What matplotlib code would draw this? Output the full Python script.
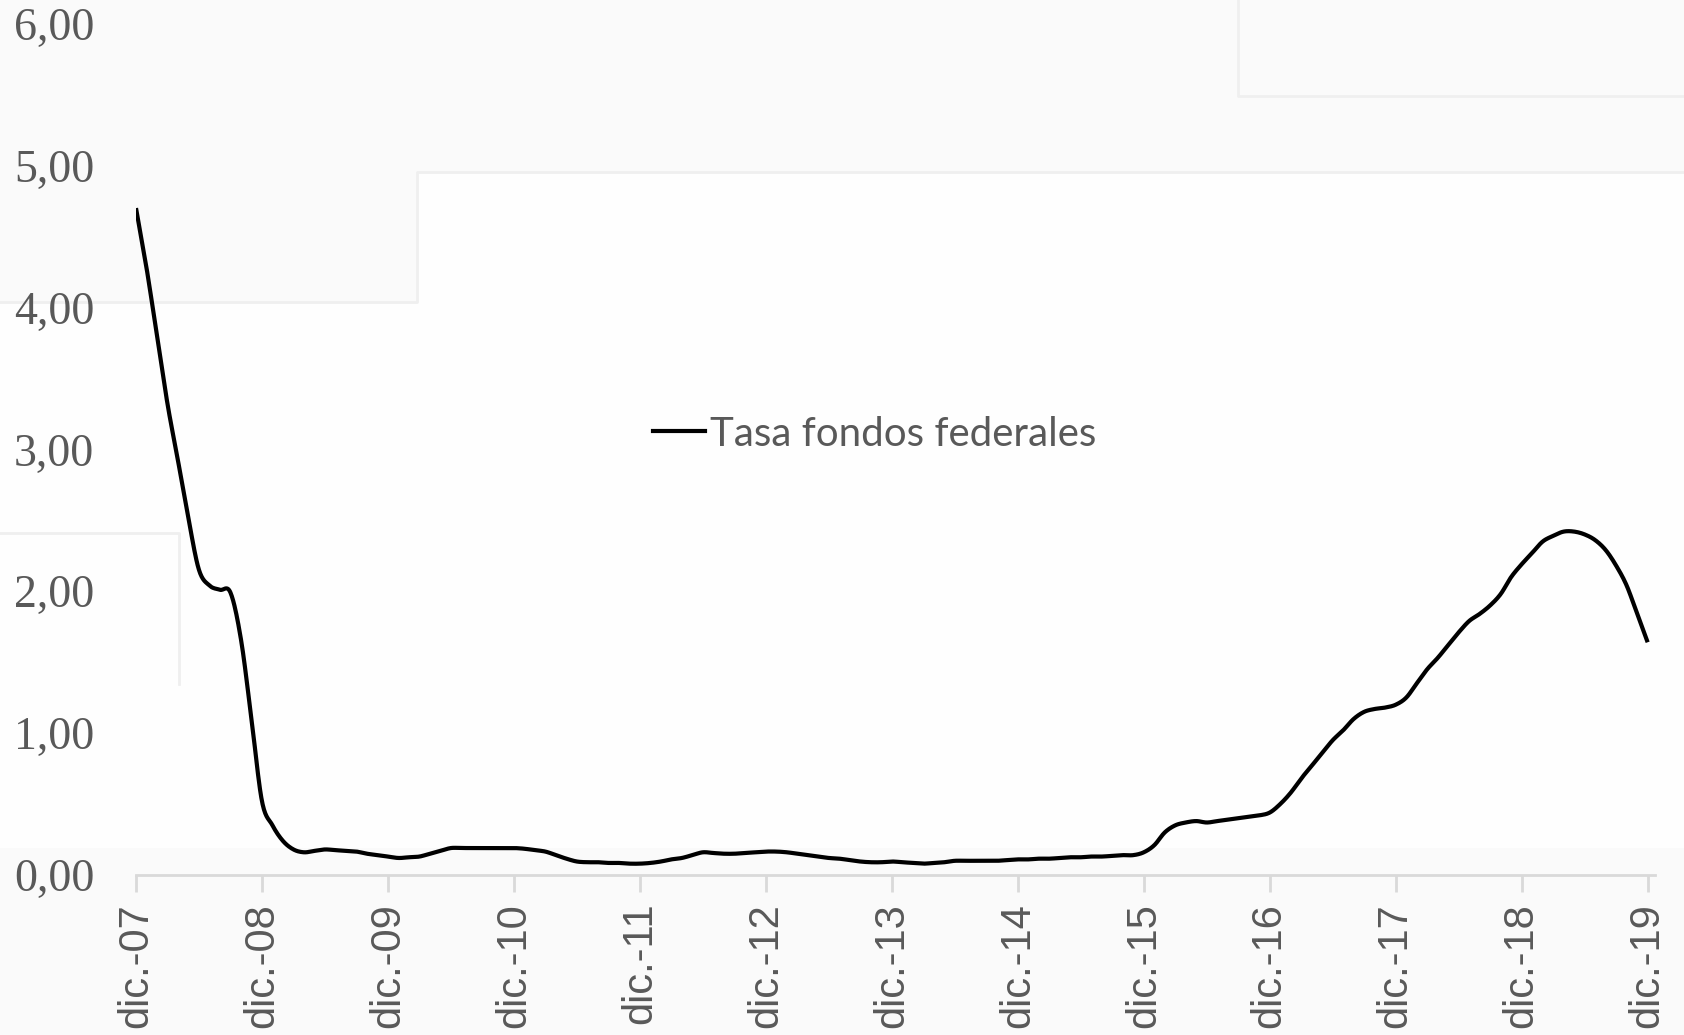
import matplotlib
matplotlib.use("Agg")
import matplotlib.pyplot as plt
import numpy as np
from matplotlib.lines import Line2D

# Monthly federal funds rate, dic.-07 .. dic.-19 (index 0 = dic.-07)
rate = [4.70, 4.28, 3.80, 3.32, 2.92, 2.51, 2.15, 2.04, 2.01, 1.99,
        1.66, 1.10, 0.52, 0.35, 0.24, 0.18, 0.16, 0.17, 0.18, 0.175,
        0.17, 0.165, 0.15, 0.14, 0.13, 0.12, 0.125, 0.13, 0.15, 0.17,
        0.19, 0.19, 0.19, 0.19, 0.19, 0.19, 0.19, 0.185, 0.175, 0.165,
        0.14, 0.115, 0.095, 0.09, 0.09, 0.085, 0.085, 0.08, 0.08, 0.085,
        0.095, 0.11, 0.12, 0.14, 0.16, 0.155, 0.15, 0.15, 0.155, 0.16,
        0.165, 0.165, 0.16, 0.15, 0.14, 0.13, 0.12, 0.115, 0.105, 0.095,
        0.09, 0.09, 0.095, 0.09, 0.085, 0.08, 0.085, 0.09, 0.10, 0.10,
        0.10, 0.10, 0.10, 0.105, 0.11, 0.11, 0.115, 0.115, 0.12, 0.125,
        0.125, 0.13, 0.13, 0.135, 0.14, 0.14, 0.16, 0.21, 0.30, 0.35,
        0.37, 0.38, 0.37, 0.38, 0.39, 0.40, 0.41, 0.42, 0.44, 0.50,
        0.58, 0.68, 0.77, 0.86, 0.95, 1.02, 1.10, 1.15, 1.17, 1.18,
        1.20, 1.25, 1.35, 1.45, 1.53, 1.62, 1.71, 1.79, 1.84, 1.90,
        1.98, 2.10, 2.19, 2.27, 2.35, 2.39, 2.42, 2.42, 2.40, 2.36,
        2.29, 2.18, 2.04, 1.84, 1.64]
tick_labels = ["dic.-07", "dic.-08", "dic.-09", "dic.-10", "dic.-11", "dic.-12",
               "dic.-13", "dic.-14", "dic.-15", "dic.-16", "dic.-17", "dic.-18", "dic.-19"]
y_ticks = [0, 1, 2, 3, 4, 5, 6]
series_name = "Tasa fondos federales"


def catmull_rom(x, y, n=16):
    x = np.asarray(x, float); y = np.asarray(y, float)
    px = np.concatenate([[2 * x[0] - x[1]], x, [2 * x[-1] - x[-2]]])
    py = np.concatenate([[2 * y[0] - y[1]], y, [2 * y[-1] - y[-2]]])
    xs, ys = [], []
    t = np.linspace(0, 1, n, endpoint=False)
    f = lambda a0, a1, a2, a3: 0.5 * ((2 * a1) + (-a0 + a2) * t +
                                      (2 * a0 - 5 * a1 + 4 * a2 - a3) * t ** 2 +
                                      (-a0 + 3 * a1 - 3 * a2 + a3) * t ** 3)
    for i in range(1, len(px) - 2):
        xs.append(f(px[i - 1], px[i], px[i + 1], px[i + 2]))
        ys.append(f(py[i - 1], py[i], py[i + 1], py[i + 2]))
    xs.append([x[-1]]); ys.append([y[-1]])
    return np.concatenate(xs), np.concatenate(ys)


W, H = 1684, 1035
fig = plt.figure(figsize=(W / 100, H / 100), dpi=100)
fig.patch.set_facecolor("#fefefe")

# faint background panels (screenshot artifacts), in shrunk-image pixel units
def fx(px): return px / 1568
def fy(py): return 1 - py / 964
bgc = "#fafafa"
for (x0, y0, x1, y1) in [(0, 0, 1568, 160), (0, 160, 388, 281), (0, 790, 1568, 964)]:
    fig.patches.append(plt.Rectangle((fx(x0), fy(y1)), fx(x1) - fx(x0), fy(y0) - fy(y1),
                                     transform=fig.transFigure, facecolor=bgc,
                                     edgecolor="none", zorder=0))
lc = "#efefef"
for xs_, ys_ in [([0, 388, 388, 1568], [281, 281, 160, 160]),
                 ([1153, 1153, 1568], [0, 89, 89]),
                 ([0, 167, 167], [496, 496, 637])]:
    fig.lines.append(Line2D([fx(v) for v in xs_], [fy(v) for v in ys_],
                            transform=fig.transFigure, color=lc, lw=2, zorder=0.5))

ax = fig.add_axes([136 / W, 1 - 875 / H, (1655 - 136) / W, (875 - 23.6) / H])
ax.set_zorder(5)
ax.set_facecolor("none")

x = np.arange(len(rate))
sx, sy = catmull_rom(x, rate)
ax.plot(sx, sy, color="black", lw=3.0, solid_capstyle="butt", solid_joinstyle="round")

ax.set_ylim(0, 6)
ax.set_xlim(0, 144.7)
ax.set_yticks(y_ticks)
ax.set_yticklabels([f"{v:.2f}".replace(".", ",") for v in y_ticks],
                   fontfamily="Liberation Serif", fontsize=33, color="#595959")
ax.set_xticks(np.arange(0, len(rate), 12))
ax.set_xticklabels(tick_labels, rotation=90, fontfamily="Liberation Sans",
                   fontsize=30, color="#595959")
ax.tick_params(axis="y", length=0, pad=30)
ax.tick_params(axis="x", length=12, width=2, color="#d9d9d9", pad=8)
for s in ["top", "right", "left"]:
    ax.spines[s].set_visible(False)
ax.spines["bottom"].set_color("#d9d9d9")
ax.spines["bottom"].set_linewidth(2)

leg_handle = Line2D([], [], color="black", lw=3.0)
leg = ax.legend([leg_handle], [series_name], loc="center left",
                bbox_to_anchor=((637 - 136) / (1655 - 136), (875 - 434) / (875 - 23.6)),
                frameon=False, handlelength=1.3, handletextpad=0.1, borderaxespad=0,
                prop={"family": "Lato", "size": 29})
for t in leg.get_texts():
    t.set_color("#595959")

fig.savefig("out.png", dpi=100, facecolor=fig.get_facecolor())
